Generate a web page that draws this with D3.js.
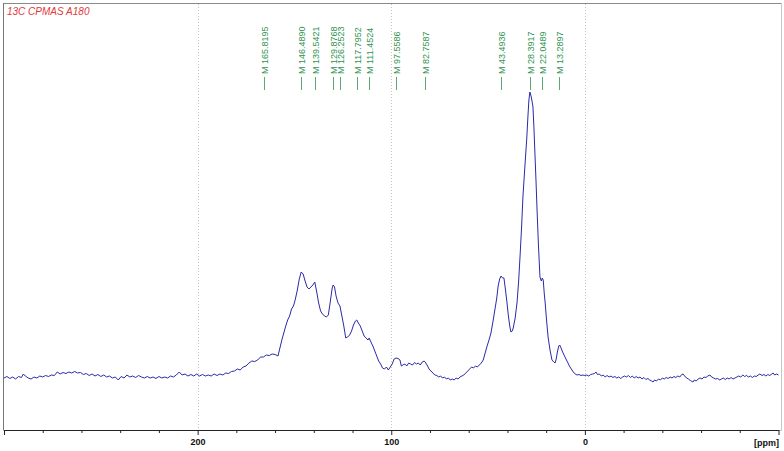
<!DOCTYPE html>
<html>
<head>
<meta charset="utf-8">
<script src="https://cdn.jsdelivr.net/npm/d3@7"></script>
<style>
  body { margin:0; background:#fff; }
  svg { display:block; font-family:"Liberation Sans", Arial, sans-serif; }
</style>
</head>
<body>
<div id="chart"></div>
<script>
var title = "13C CPMAS A180";
var axisUnit = "[ppm]";
var tickPpm = d3.range(-100, 301, 20);
var labelPpm = [200, 100, 0];

// picked peaks (ppm)
var peaks = [165.8195, 146.4890, 139.5421, 129.8768, 126.2523, 117.7952,
             111.4524, 97.5586, 82.7587, 43.4936, 28.3917, 22.0489, 13.2897];

// [ppm, intensity]
var spectrum = [
[300,0],[298.5,1.5],[297,-0.5],[295.5,1],[294,-1],[292.5,1.5],[291,0.5],[290,4],[289,2],[287.5,0],[286,-1],
[284.5,1],[283,0],[281.5,2],[280,1],[278.5,2.5],[277,1.5],[275.5,3],[274,2.5],[272.5,6],[271,4],[269.5,5.5],
[268,4.5],[266.5,6],[265,5],[263.5,6.5],[262,5],[260.5,5.5],[259,3.5],[257.5,4.5],[256,2.5],[254.5,4],[253,2],
[251.5,3.5],[250,1.5],[248.5,3],[247,1],[245.5,2],[244,0],[242.5,1],[241,-2],[239.5,1.5],[238,0],[236.5,3],
[235,1],[233.5,2],[232,0.5],[230.5,2.5],[229,1],[227.5,0],[226,1.5],[224.5,0],[223,1],[221.5,-0.5],[220,1.5],
[218.5,0],[217,1],[215.5,0],[214,2],[212.5,1],[211,3],[209.5,6],[208,3],[206.5,4],[205,2],[203.5,3.5],[202,2],
[200.5,4],[199,2],[197.5,3.5],[196,2],[194.5,3],[193,2],[191.5,4],[190,2.5],[188.5,4],[187,3],[185.5,5],
[184,4.5],[182.5,6.5],[181,7],[179.5,9],[178,8],[176.5,11],[175,12],[173.5,15],[172,17],[170.5,16.5],[169,18],
[167.5,21],[166,21],[164.5,23],[163,22.5],[161.5,24],[160,23.5],[158.5,22],[157.5,30],[156.5,38],[155.5,45],
[154.5,52],[153.5,58],[152.5,62],[151.5,69],[150.5,72],[149.5,79],[148.5,88],[147.5,99],[146.5,106],[145.5,104],
[144.5,97],[143.5,91],[142.5,89],[141.5,91],[140.5,93],[139.5,96],[138.5,86],[137.5,75],[136.5,67],[135.5,64],
[134.5,62],[133.5,61],[132.5,63],[131.5,76],[130.5,90],[130,93],[129.3,91],[128.5,82],[127.5,75],[126.5,72],
[125.5,62],[124.5,52],[123.5,40],[122.5,41],[121.5,43],[120.5,47],[119.5,53],[118.5,57],[117.8,58],[117,55],
[116,52],[115,47],[114,42],[113,40],[112,38],[111.4,40],[110.5,36],[109.5,32],[108.5,27],[107.5,22],[106.5,17],
[105.5,14],[104.5,10],[103.5,9],[102.5,11],[101.5,8],[100.5,11],[99.5,14],[98.5,19],[97.5,20],[96.5,19.5],
[95.5,18],[94.8,12],[94,13],[93,14],[92,12],[91,15],[90,14],[89,13],[88,15.5],[87,14],[86,15],[85,13],[84,16],
[83,17],[82.5,16],[81.5,13],[80.5,9],[79.5,7],[78.5,5],[77.5,3],[76.5,2.5],[75.5,1],[74.5,2],[73.5,0],[72.5,1],
[71.5,-1],[70.5,0],[69.5,-2],[68.5,-1],[67.5,-2],[66.5,0],[65.5,-1],[64.5,1],[63.5,2],[62.5,3],[61.5,5],
[60.5,7],[59.5,9],[58.5,11],[57.5,10],[56.5,12],[55.5,11],[54.5,13],[53.5,15],[52.5,18],[51.5,25],[50.5,32],
[49.5,38],[48.5,45],[47.5,56],[46.5,68],[45.5,80],[44.8,92],[44,99],[43.3,102],[42.5,100],[41.8,100],[41,88],
[40.2,75],[39.5,62],[38.8,52],[38.2,46],[37.5,47],[37,50],[36,60],[35,76],[34.2,97],[33.5,121],[32.7,150],
[32,181],[31,211],[30,240],[29.4,262],[28.9,278],[28.4,286],[27.8,282],[27.3,277],[26.8,271],[26.3,250],
[25.8,225],[25.2,195],[24.7,168],[24,134],[23.2,101],[22.5,97],[22,100],[21.5,98],[21,85],[20.5,75],[19.8,58],
[19,41],[18,28],[17,18],[16,16],[15.4,15],[14.8,19],[14.2,26],[13.5,32],[13,33],[12.3,30],[11.5,26],[10.5,22],
[9.5,18],[8.7,15],[8,12],[7,9],[6,6],[5,4],[4,3],[3,3.5],[2,2.5],[1,3],[0,2.5],[-1,3],[-2,2],[-3,3.5],[-4,4],
[-5,4.5],[-5.7,6],[-6.5,3.5],[-7.5,4],[-8.5,2],[-9.5,3],[-10.5,1],[-11.5,2.5],[-12.5,1],[-13.5,2],[-14.5,0.5],
[-15.5,1.5],[-16.5,0],[-17.5,1],[-18.5,-0.5],[-19.5,1],[-20.5,2],[-21.5,1],[-22.5,2.5],[-23.5,0.5],[-24.5,2],
[-25.5,0],[-26.5,1.5],[-27.5,0],[-28.5,1],[-29.5,-1],[-30.5,0.5],[-31.5,-1.5],[-32.5,-0.5],[-33.5,-2],[-34.5,-3],
[-35.2,-4],[-36,-2],[-37,-3],[-38,-1],[-39,-2],[-40,0],[-41,-1],[-42,0.5],[-43,-0.5],[-44,1],[-45,0],[-46,1.5],
[-47,0.5],[-48,2],[-49,1],[-50,3.5],[-50.7,4],[-51.5,2],[-52.5,0],[-53.5,-1],[-54.5,-2.5],[-55.8,-4],[-56.5,-2],
[-57.5,-3],[-58.5,-1],[-59.5,0],[-60.5,-1],[-61.5,1],[-62.5,0.5],[-63.5,2],[-64.6,3],[-65.5,1],[-66.5,0],
[-67.5,-1],[-68.5,-0.5],[-69.7,-2],[-70.5,-1],[-71.5,0],[-72.5,-1.5],[-73.5,0],[-74.5,-1],[-75.5,0.5],[-76.5,-1],
[-77.5,0],[-78.5,1],[-79.5,2],[-80.5,1],[-81.6,3],[-82.5,1.5],[-83.5,2.5],[-84.5,1],[-85.5,2],[-86.5,0.5],
[-87.5,2],[-88.5,1.5],[-89.5,3],[-90.4,4],[-91.5,2.5],[-92.5,3.5],[-93.5,2],[-94.5,3.5],[-95.5,2.5],[-96.5,4],
[-97.2,5],[-98,3],[-99,4],[-100,3]
];

var W = 784, H = 451;
var box = {left:3, top:3, right:781, bottom:430};

var svg = d3.select("#chart").append("svg")
      .attr("width", W)
      .attr("height", H);

var x = d3.scaleLinear().domain([300, -100]).range([4, 778.5]);
var y = d3.scaleLinear().domain([0, 286]).range([378, 92]);

// frame
svg.append("rect")
   .attr("x", box.left + 0.5).attr("y", box.top + 0.5)
   .attr("width", box.right - box.left).attr("height", box.bottom - box.top)
   .attr("fill", "none")
   .attr("stroke", "#c8c8c8");
svg.append("line")
   .attr("x1", box.left).attr("x2", box.right)
   .attr("y1", box.top + 0.5).attr("y2", box.top + 0.5)
   .attr("stroke", "#8a8a8a");
svg.append("line")
   .attr("x1", box.left + 0.5).attr("x2", box.left + 0.5)
   .attr("y1", box.top).attr("y2", box.bottom)
   .attr("stroke", "#777");

// dotted grid at labelled ticks
svg.append("g").selectAll("line")
   .data(labelPpm)
   .join("line")
   .attr("x1", function(d){ return Math.round(x(d)) + 0.5 })
   .attr("x2", function(d){ return Math.round(x(d)) + 0.5 })
   .attr("y1", box.top + 1).attr("y2", box.bottom)
   .attr("stroke", "#c4c4c4")
   .attr("stroke-dasharray", "1,2");

// spectrum
var line = d3.line()
      .x(function(d){ return x(d[0]) })
      .y(function(d){ return y(d[1]) });

svg.append("path")
   .datum(spectrum)
   .attr("d", line)
   .attr("fill", "none")
   .attr("stroke", "#2a2aa8")
   .attr("stroke-width", 1);

// peak picks
var pk = svg.append("g").selectAll("g")
      .data(peaks)
      .join("g")
      .attr("transform", function(d){ return "translate(" + (Math.round(x(d)) + 0.5) + ",0)" });
pk.append("line")
   .attr("y1", 77).attr("y2", 90)
   .attr("stroke", "#5aa872");
pk.append("text")
   .attr("transform", "translate(0,74) rotate(-90)")
   .attr("dy", "0.35em")
   .attr("font-size", 9)
   .attr("fill", "#2f9350")
   .text(function(d){ return "M " + d.toFixed(4) });

// axis
var axis = d3.axisBottom(x)
      .tickValues(tickPpm)
      .tickSizeInner(3)
      .tickSizeOuter(0)
      .tickPadding(6)
      .tickFormat(function(d){ return labelPpm.indexOf(d) >= 0 ? d : "" });

var ax = svg.append("g")
      .attr("transform", "translate(0," + box.bottom + ")")
      .call(axis);
ax.select(".domain").attr("stroke", "#222");
ax.selectAll(".tick line").attr("stroke", "#222")
   .attr("y2", function(d){ return d % 100 === 0 ? 5 : 3 });
ax.selectAll(".tick text")
   .attr("font-size", 9)
   .attr("font-weight", "bold")
   .attr("font-family", "Liberation Sans, Arial, sans-serif")
   .attr("fill", "#111");

svg.append("text")
   .attr("x", 779).attr("y", 446)
   .attr("text-anchor", "end")
   .attr("font-size", 9)
   .attr("font-weight", "bold")
   .attr("fill", "#111")
   .text(axisUnit);

// title
svg.append("text")
   .attr("x", 7).attr("y", 15)
   .attr("font-size", 10)
   .attr("font-style", "italic")
   .attr("fill", "#e0393b")
   .text(title);
</script>
</body>
</html>
